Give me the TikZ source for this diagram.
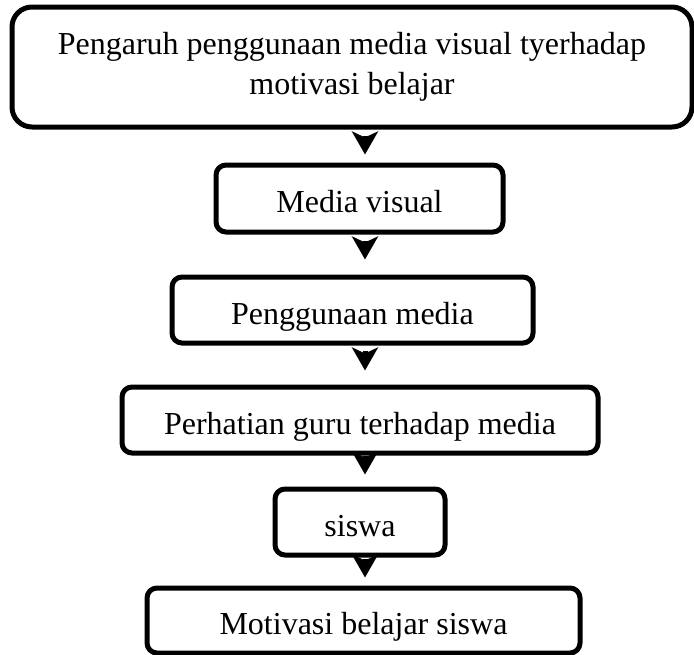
\documentclass[tikz,border=0pt]{standalone}
\usepackage{fontspec}
\setmainfont{Liberation Serif}
\usetikzlibrary{arrows.meta}
\tikzset{
    flow-box/.style = {draw=black, fill=white, line width=5pt, rectangle, rounded corners=10pt, inner sep=0pt, align=center, font=\fontsize{32}{40}\selectfont},
    flow-line/.style = {text height=28pt, text depth=0pt},
    flow-arrow/.style = {line width=5pt, -{Stealth[length=23pt, width=26pt, inset=6pt]}},
}
\begin{document}
\begin{tikzpicture}[x=1pt, y=-1pt]
\useasboundingbox (0,0) rectangle (694,654);
\coordinate (axis) at (365,0);

\node [flow-box, rounded corners=20pt, minimum width=680pt, minimum height=120pt] (judul) at (352,67)
    {Pengaruh penggunaan media visual tyerhadap\\ motivasi belajar};
\node [flow-box, flow-line, minimum width=287pt, minimum height=67pt] (media) at (359.5,198.5) {Media visual};
\node [flow-box, flow-line, minimum width=361pt, minimum height=66pt] (guna) at (352.5,310) {Penggunaan media};
\node [flow-box, flow-line, minimum width=476pt, minimum height=66pt] (guru) at (360,420) {Perhatian guru terhadap media};
\node [flow-box, flow-line, minimum width=170pt, minimum height=66pt] (siswa) at (360,522) {siswa};
\node [flow-box, flow-line, minimum width=433pt, minimum height=65pt] (motivasi) at (363.5,620.5) {Motivasi belajar siswa};

\draw [flow-arrow, shorten <=6pt, shorten >=8pt] (judul.south -| axis) -- (media.north -| axis);
\draw [flow-arrow, shorten <=6pt, shorten >=15pt] (media.south -| axis) -- (guna.north -| axis);
\draw [flow-arrow, shorten <=5pt, shorten >=14pt] (guna.south -| axis) -- (guru.north -| axis);
\draw [flow-arrow, shorten <=0pt, shorten >=12pt] (guru.south -| axis) -- (siswa.north -| axis);
\draw [flow-arrow, shorten <=1pt, shorten >=8pt] (siswa.south -| axis) -- (motivasi.north -| axis);
\end{tikzpicture}
\end{document}
